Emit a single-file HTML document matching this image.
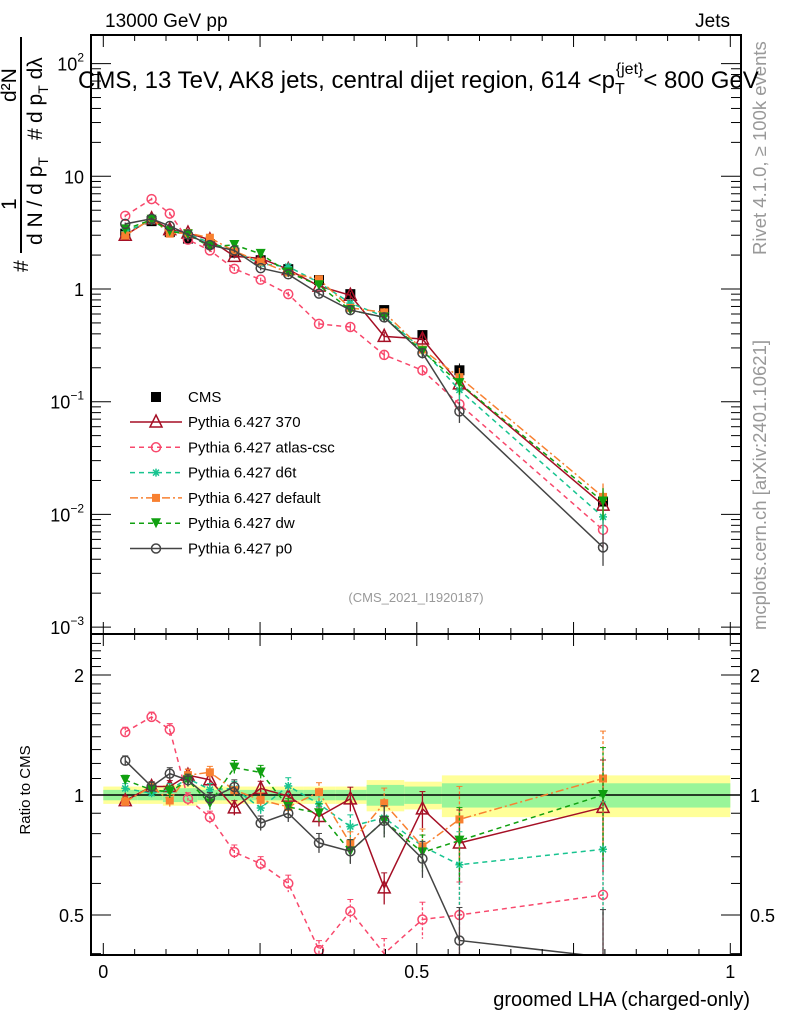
<!DOCTYPE html>
<html><head><meta charset="utf-8"><style>
body{margin:0;background:#fff;}
svg{display:block;font-family:"Liberation Sans",sans-serif;}
</style></head><body>
<svg id="c" width="786" height="1024" viewBox="0 0 786 1024" xmlns="http://www.w3.org/2000/svg">
<text x="105" y="27" font-size="19">13000 GeV pp</text>
<text x="730" y="27" font-size="19" text-anchor="end">Jets</text>
<text transform="translate(766,630) rotate(-90)" font-size="18.5" fill="#999">mcplots.cern.ch [arXiv:2401.10621]</text>
<text transform="translate(766,255) rotate(-90)" font-size="18.5" fill="#999">Rivet 4.1.0, ≥ 100k events</text>
<g font-size="21">
<text transform="translate(28,272) rotate(-90)">#</text>
<text transform="translate(16,210) rotate(-90)">1</text>
<line x1="21" y1="253" x2="21" y2="37" stroke="#000" stroke-width="2"/>
<text transform="translate(42,245) rotate(-90)">d N / d p<tspan font-size="14" dy="6">T</tspan></text>
<text transform="translate(42,140) rotate(-90)">#</text>
<text transform="translate(16,102) rotate(-90)">d²N</text>
<text transform="translate(42,123) rotate(-90)">d p<tspan font-size="14" dy="6">T</tspan><tspan dy="-6"> d</tspan>λ</text>
</g>
<text x="30" y="790" font-size="15" transform="rotate(-90 30 790)" text-anchor="middle">Ratio to CMS</text>
<text x="750" y="1006" font-size="20" text-anchor="end">groomed LHA (charged-only)</text>
<text x="416" y="602" font-size="13" fill="#999" text-anchor="middle">(CMS_2021_I1920187)</text>
<g id="main"></g><g id="ratio"></g><g id="axes"></g><g id="leg"></g>
<text x="78" y="88" font-size="24">CMS, 13 TeV, AK8 jets, central dijet region, 614 &lt;p<tspan font-size="16" dy="6">T</tspan><tspan font-size="16" dy="-20" dx="-9">{jet}</tspan><tspan dy="14">&lt; 800 GeV</tspan></text>
</svg>
<script>
const xs=[0.035,0.077,0.106,0.135,0.17,0.209,0.251,0.295,0.344,0.394,0.448,0.509,0.568,0.797];
const cms=[3.1,4.0,3.2,2.8,2.5,2.1,1.8,1.5,1.2,0.9,0.65,0.39,0.19,0.013];
const relErr=[0.04,0.04,0.05,0.05,0.05,0.06,0.06,0.07,0.08,0.1,0.13,0.15,0.3,0.45];
const bandY=[0.05,0.05,0.06,0.06,0.05,0.05,0.05,0.05,0.05,0.05,0.09,0.08,0.12,0.12];
const bandG=[0.03,0.03,0.04,0.04,0.03,0.03,0.03,0.03,0.03,0.03,0.06,0.05,0.07,0.07];
const binEdges=[0,0.055,0.095,0.12,0.15,0.19,0.23,0.27,0.32,0.37,0.42,0.48,0.54,0.6,1.0];
const v370=[3.0,4.2,3.36,3.14,2.73,1.95,1.87,1.49,1.06,0.88,0.38,0.36,0.144,0.0121];
const vAtlas=[4.46,6.28,4.67,2.74,2.2,1.51,1.21,0.9,0.49,0.46,0.26,0.19,0.095,0.0073];
const vD6t=[3.22,4.04,3.3,3.08,2.58,2.18,1.67,1.58,1.14,0.75,0.57,0.29,0.127,0.0095];
const vDef=[2.98,4.2,3.1,3.14,2.85,2.16,1.75,1.4,1.22,0.68,0.62,0.29,0.165,0.0143];
const vDw=[3.38,4.12,3.26,3.05,2.38,2.46,2.05,1.4,1.08,0.65,0.56,0.28,0.146,0.013];
const vP0=[3.78,4.2,3.62,3.05,2.45,2.2,1.53,1.35,0.91,0.65,0.56,0.27,0.082,0.0051];
const NS="http://www.w3.org/2000/svg";
const L=91,R=741,T=35,MB=634,RB=955;
const X=v=>103.3+v*627;
const Y=v=>289-Math.log10(v)*112.7;
const RY=r=>795-Math.log2(r)*120;
function mk(p,t,a){const e=document.createElementNS(NS,t);for(const k in a)e.setAttribute(k,a[k]);p.appendChild(e);return e;}
const main=document.getElementById('main'),ratio=document.getElementById('ratio'),axes=document.getElementById('axes'),leg=document.getElementById('leg');
for(let i=0;i<xs.length;i++){
 const x1=X(binEdges[i]),x2=X(binEdges[i+1]);
 const b1=mk(ratio,'rect',{x:x1,y:RY(1+bandY[i]),width:x2-x1,height:RY(1-bandY[i])-RY(1+bandY[i]),fill:'#ffff99'});
 
 
 const b2=mk(ratio,'rect',{x:x1,y:RY(1+bandG[i]),width:x2-x1,height:RY(1-bandG[i])-RY(1+bandG[i]),fill:'#99f599'});
 
 
}
const rl=mk(ratio,'line',{x1:L,x2:R,y1:RY(1),y2:RY(1),stroke:'#000','stroke-width':1.5});


const series=[
 {n:'Pythia 6.427 370',v:v370,c:'#a50f25',d:'',m:'tri'},
 {n:'Pythia 6.427 atlas-csc',v:vAtlas,c:'#f8486c',d:'5,4',m:'circ'},
 {n:'Pythia 6.427 d6t',v:vD6t,c:'#18c490',d:'5,4',m:'star'},
 {n:'Pythia 6.427 default',v:vDef,c:'#f88030',d:'8,3,2,3',m:'sq'},
 {n:'Pythia 6.427 dw',v:vDw,c:'#10a010',d:'5,4',m:'dtri'},
 {n:'Pythia 6.427 p0',v:vP0,c:'#444',d:'',m:'circ'}];
function marker(g,m,x,y,c,s){
 s=s||5;
 if(m==='tri')mk(g,'path',{d:`M${x},${y-s-2}L${x+s+1},${y+s}L${x-s-1},${y+s}Z`,fill:'none',stroke:c,'stroke-width':1.5});
 else if(m==='circ')mk(g,'circle',{cx:x,cy:y,r:s-0.5,fill:'none',stroke:c,'stroke-width':1.5});
 else if(m==='sq')mk(g,'rect',{x:x-4,y:y-4,width:8,height:8,fill:c});
 else if(m==='dtri')mk(g,'path',{d:`M${x-5},${y-5}L${x+5},${y-5}L${x},${y+5}Z`,fill:c});
 else if(m==='star'){mk(g,'path',{d:`M${x-4},${y}H${x+4}M${x},${y-4}V${y+4}M${x-3},${y-3}L${x+3},${y+3}M${x-3},${y+3}L${x+3},${y-3}`,stroke:c,'stroke-width':1.5});}
 else if(m==='cms')mk(g,'rect',{x:x-5,y:y-5,width:10,height:10,fill:'#000'});
}
const cg=mk(main,'g',{});


xs.forEach((x,i)=>{const y=Y(cms[i]);mk(cg,'line',{x1:X(x),x2:X(x),y1:Y(cms[i]*(1+relErr[i]*0.5)),y2:Y(cms[i]*(1-relErr[i]*0.5)),stroke:'#000'});marker(cg,'cms',X(x),y);});
series.forEach((s,si)=>{
 const g=mk(main,'g',{});
 
 
 const gr=mk(ratio,'g',{});
 
 
 const pts=xs.map((x,i)=>X(x)+','+Y(s.v[i])).join(' ');
 mk(g,'polyline',{points:pts,fill:'none',stroke:s.c,'stroke-width':1.5,'stroke-dasharray':s.d});
 const rp=xs.map((x,i)=>X(x)+','+RY(s.v[i]/cms[i])).join(' ');
 mk(gr,'polyline',{points:rp,fill:'none',stroke:s.c,'stroke-width':1.5,'stroke-dasharray':s.d});
 xs.forEach((x,i)=>{
  const e=relErr[i]*0.7,v=s.v[i],r=v/cms[i],px=X(x);
  mk(g,'line',{x1:px,x2:px,y1:Y(v*(1+e)),y2:Y(v*(1-e)),stroke:s.c,'stroke-width':1.3});
  marker(g,s.m,px,Y(v),s.c);
  mk(gr,'line',{x1:px,x2:px,y1:RY(r*(1+e)),y2:Math.min(RB,RY(r*(1-e))),stroke:s.c,'stroke-width':1.3,'stroke-dasharray':s.d?'3,2':''});
  mk(gr,'line',{x1:px-3,x2:px+3,y1:RY(r*(1+e)),y2:RY(r*(1+e)),stroke:s.c});
  if(RY(r)<RB-3)marker(gr,s.m,px,RY(r),s.c);
 });
 const ly=422+si*25.3;
 const lg=mk(leg,'g',{});
 
 
 mk(lg,'line',{x1:130,x2:182,y1:ly,y2:ly,stroke:s.c,'stroke-width':1.5,'stroke-dasharray':s.d});
 marker(lg,s.m,156,ly,s.c);
 const t=mk(lg,'text',{x:188,y:ly+5,'font-size':15});t.textContent=s.n;
});
const lg0=mk(leg,'g',{});


marker(lg0,'cms',156,397);
const t0=mk(lg0,'text',{x:188,y:402,'font-size':15});t0.textContent='CMS';
ratio.setAttribute('clip-path','url(#rc)');
const defs=mk(document.getElementById('c'),'defs',{});
const cp=mk(defs,'clipPath',{id:'rc'});mk(cp,'rect',{x:L,y:MB,width:R-L,height:RB-MB});
const f1=mk(axes,'rect',{x:L,y:T,width:R-L,height:MB-T,fill:'none',stroke:'#000','stroke-width':2});


const f2=mk(axes,'rect',{x:L,y:MB,width:R-L,height:RB-MB,fill:'none',stroke:'#000','stroke-width':2});


for(let k=0;k<=20;k++){const v=k*0.05,px=X(v),big=k%5===0;
 [[T,1],[MB,-1],[MB,1],[RB,-1]].forEach(([y0,d])=>mk(axes,'line',{x1:px,x2:px,y1:y0,y2:y0+d*(big?12:6),stroke:'#000'}));}
const xTickLabels=['0','0.5','1'];
xTickLabels.forEach((l,i)=>{const t=mk(axes,'text',{x:X(i*0.5),y:978,'font-size':18,'text-anchor':'middle'});t.textContent=l;
 
 });
for(let e=-3;e<=2;e++)for(let m=1;m<10;m++){const v=m*Math.pow(10,e),y=Y(v);if(y<T||y>MB)continue;
 const len=m===1?20:10;mk(axes,'line',{x1:L,x2:L+len,y1:y,y2:y,stroke:'#000'});mk(axes,'line',{x1:R,x2:R-len,y1:y,y2:y,stroke:'#000'});}
[['10<tspan font-size="12" dy="-9">2</tspan>',2],['10',1],['1',0],['10<tspan font-size="12" dy="-9">−1</tspan>',-1],['10<tspan font-size="12" dy="-9">−2</tspan>',-2],['10<tspan font-size="12" dy="-9">−3</tspan>',-3]].forEach(([h,e])=>{
 const t=mk(axes,'text',{x:84,y:Y(Math.pow(10,e))+7,'font-size':18,'text-anchor':'end'});t.innerHTML=h;
 
 });
for(let r=0.4;r<=2.5;r+=0.1){const y=RY(r);if(y<MB||y>RB)continue;const big=Math.abs(r-0.5)<1e-6||Math.abs(r-1)<1e-6||Math.abs(r-2)<1e-6;
 const len=big?20:10;mk(axes,'line',{x1:L,x2:L+len,y1:y,y2:y,stroke:'#000'});mk(axes,'line',{x1:R,x2:R-len,y1:y,y2:y,stroke:'#000'});}
const ratioTickLabels=['2','1','0.5'];
[2,1,0.5].forEach((r,i)=>{
 const t=mk(axes,'text',{x:84,y:RY(r)+7,'font-size':18,'text-anchor':'end'});t.textContent=ratioTickLabels[i];
 
 
 const t2=mk(axes,'text',{x:750,y:RY(r)+7,'font-size':18});t2.textContent=ratioTickLabels[i];
 
 });
</script>
</body></html>
